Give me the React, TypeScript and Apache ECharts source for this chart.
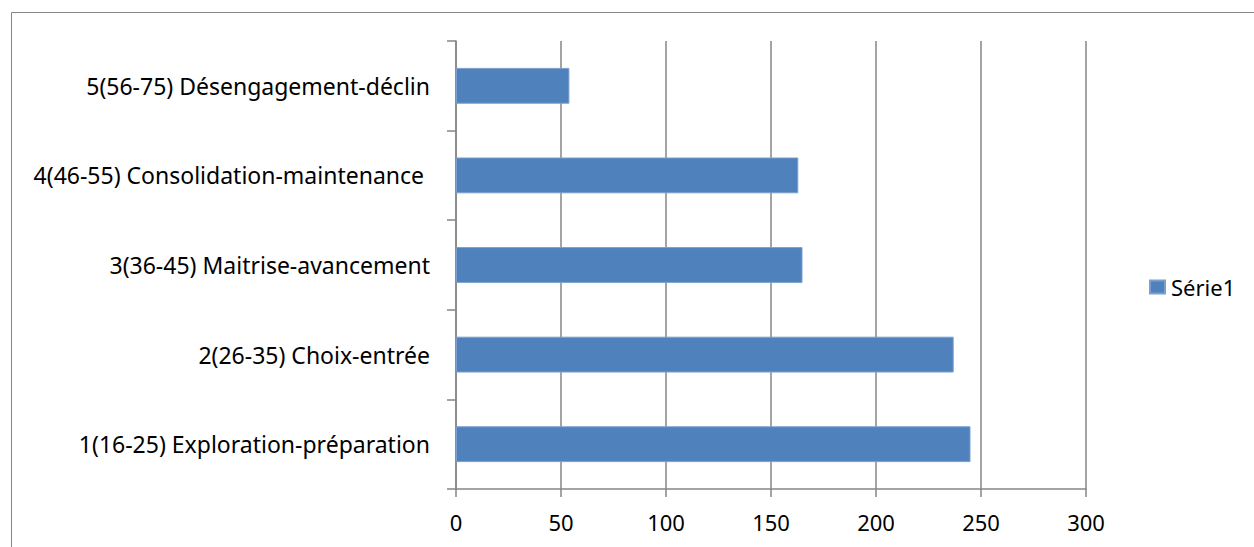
import React, { useEffect, useRef } from "react";
import * as echarts from "echarts";

const categories = [
  "1(16-25) Exploration-préparation",
  "2(26-35) Choix-entrée",
  "3(36-45) Maitrise-avancement",
  "4(46-55) Consolidation-maintenance ",
  "5(56-75) Désengagement-déclin",
];
const seriesName = "Série1";
const values = [245, 237, 165, 163, 54];
const xMin = 0;
const xMax = 300;
const xStep = 50;

const FONT = "'Noto Sans', 'Open Sans', sans-serif";
const GRAY = "#868686";

export default function App() {
  const ref = useRef<HTMLDivElement>(null);
  useEffect(() => {
    document.body.style.margin = "0";
    const chart = echarts.init(ref.current!, null, { renderer: "svg" });
    chart.setOption({
      animation: false,
      backgroundColor: "#ffffff",
      textStyle: { fontFamily: FONT },
      graphic: [
        {
          type: "rect",
          shape: { x: 11.5, y: 12.5, width: 1300, height: 600 },
          style: { fill: "none", stroke: GRAY, lineWidth: 1 },
          silent: true,
        },
      ],
      grid: { left: 456, top: 41, right: 168, bottom: 58, containLabel: false },
      legend: {
        show: true,
        data: [seriesName],
        left: 1149,
        top: 276,
        padding: 0,
        orient: "vertical",
        icon: "rect",
        itemWidth: 15,
        itemHeight: 13,
        itemGap: 6,
        textStyle: { fontFamily: FONT, fontSize: 22, color: "#000", padding: [0, 0, 0, 1] },
      },
      xAxis: {
        type: "value",
        min: xMin,
        max: xMax,
        interval: xStep,
        axisLine: { show: true, lineStyle: { color: GRAY, width: 1.5 } },
        axisTick: { show: true, length: 8, lineStyle: { color: GRAY, width: 1.5 } },
        splitLine: { show: true, lineStyle: { color: GRAY, width: 1.5 } },
        axisLabel: { color: "#000", fontSize: 22, fontFamily: FONT, margin: 22 },
      },
      yAxis: {
        type: "category",
        data: categories,
        axisLine: { show: true, lineStyle: { color: GRAY, width: 1.5 } },
        axisTick: { show: true, length: 9, lineStyle: { color: GRAY, width: 1.5 } },
        axisLabel: { color: "#000", fontSize: 23, fontFamily: FONT, margin: 26 },
        splitLine: { show: false },
      },
      series: [
        {
          name: seriesName,
          type: "bar",
          data: values,
          barCategoryGap: "60%",
          itemStyle: { color: "#4F81BD", borderColor: "#7BA0CD", borderWidth: 1 },
        },
      ],
    });
    return () => chart.dispose();
  }, []);
  return <div ref={ref} style={{ width: 1254, height: 547 }} />;
}
